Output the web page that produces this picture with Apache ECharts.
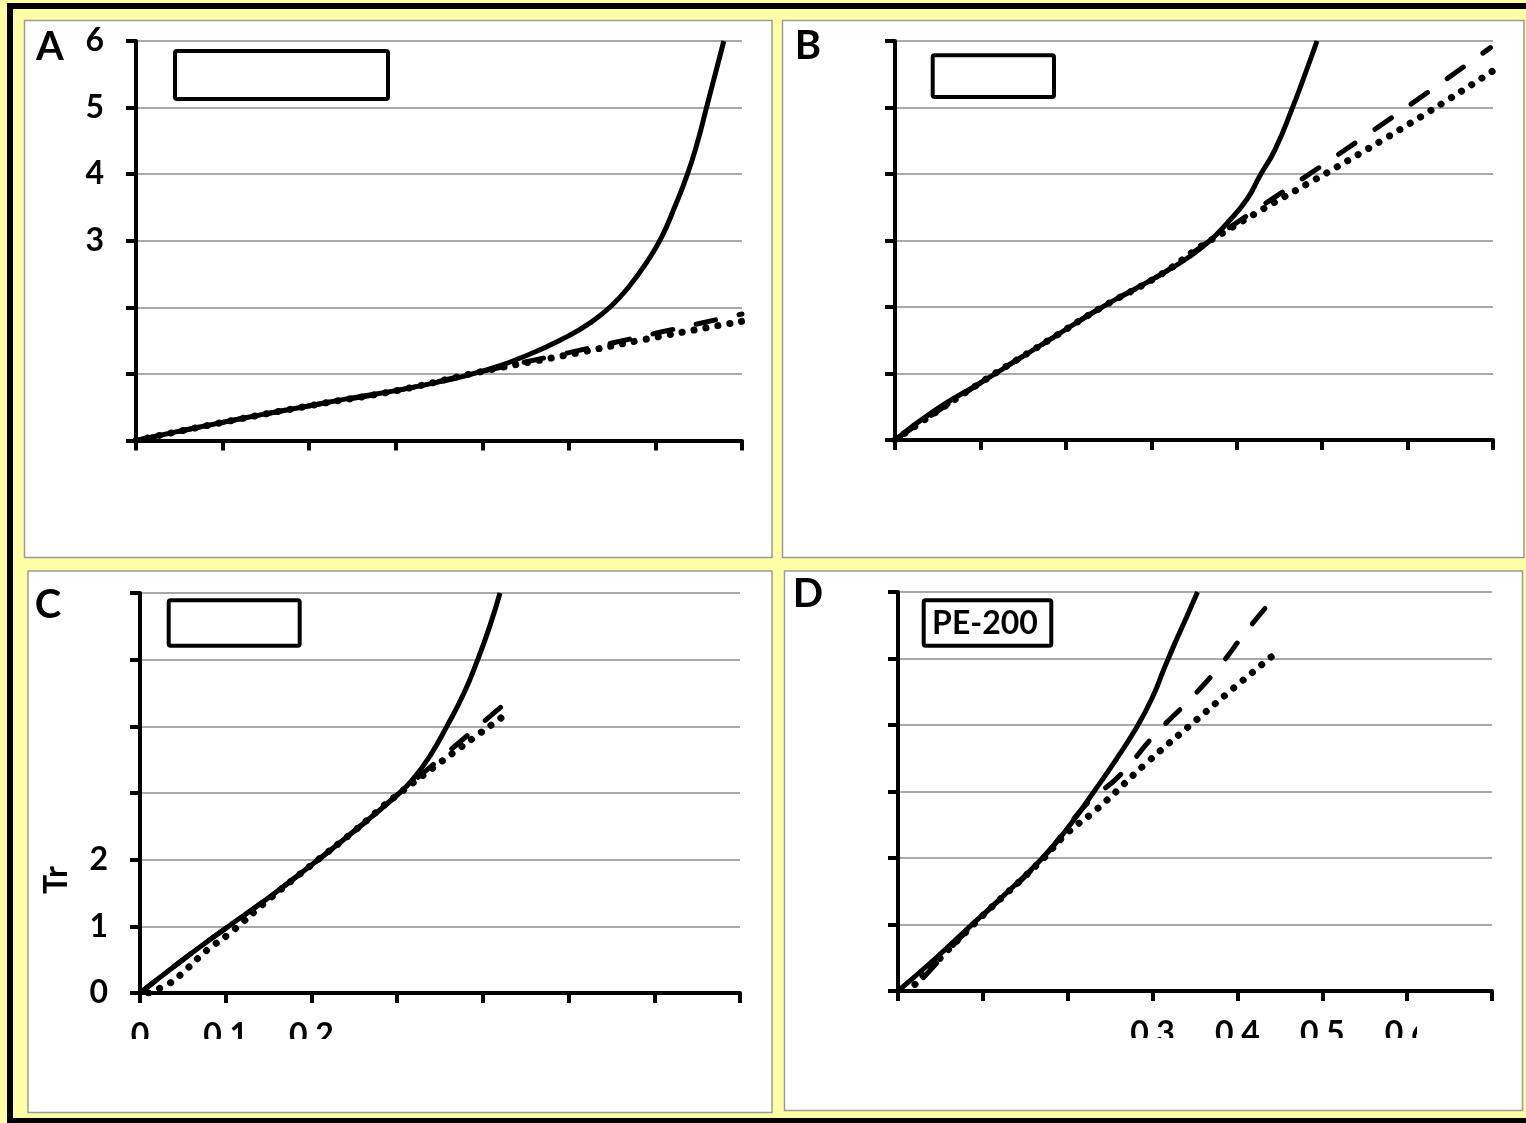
<!DOCTYPE html>
<html>
<head>
<meta charset="utf-8">
<script src="https://cdn.jsdelivr.net/npm/echarts@6/dist/echarts.min.js"></script>
<style>
  html, body { margin: 0; padding: 0; background: #fff; }
  #main { width: 1526px; height: 1123px; }
</style>
</head>
<body>
<div id="main"></div>
<script>
// values, [x, Tr]
// panel A
var aSolid = [[0, 0], [0.05, 0.14], [0.103, 0.28], [0.15, 0.4], [0.204, 0.53], [0.25, 0.64], [0.305, 0.76], [0.35, 0.88], [0.397, 1.03], [0.452, 1.28], [0.498, 1.56], [0.525, 1.77], [0.549, 2.02], [0.57, 2.32], [0.59, 2.68], [0.607, 3.05], [0.622, 3.5], [0.637, 4.0], [0.649, 4.5], [0.659, 5.0], [0.669, 5.5], [0.679, 6.0]];
var aDash = [[0, 0], [0.103, 0.28], [0.204, 0.53], [0.305, 0.76], [0.397, 1.03], [0.5, 1.32], [0.6, 1.61], [0.7, 1.9]];
var aDot = [[0, 0], [0.103, 0.28], [0.204, 0.53], [0.305, 0.76], [0.397, 1.03], [0.5, 1.29], [0.6, 1.55], [0.7, 1.79]];
// panel B
var bSolid = [[0, 0], [0.047, 0.45], [0.1, 0.86], [0.18, 1.5], [0.24, 1.98], [0.31, 2.48], [0.345, 2.76], [0.369, 3.0], [0.388, 3.25], [0.412, 3.62], [0.427, 3.97], [0.445, 4.37], [0.466, 5.02], [0.48, 5.5], [0.494, 6.0]];
var bDash = [[0, 0], [0.1, 0.86], [0.18, 1.5], [0.24, 1.98], [0.31, 2.48], [0.369, 3.0], [0.548, 4.55], [0.697, 5.9]];
var bDot = [[0, 0], [0.1, 0.86], [0.18, 1.5], [0.24, 1.98], [0.31, 2.48], [0.369, 3.0], [0.572, 4.52], [0.7, 5.55]];
// panel C
var cSolid = [[0, 0], [0.05, 0.5], [0.101, 0.98], [0.15, 1.43], [0.2, 1.92], [0.25, 2.43], [0.3, 2.97], [0.318, 3.2], [0.338, 3.55], [0.358, 4.0], [0.378, 4.5], [0.394, 5.0], [0.408, 5.5], [0.42, 6.0]];
var cDash = [[0, 0], [0.05, 0.5], [0.101, 0.98], [0.15, 1.43], [0.2, 1.92], [0.25, 2.43], [0.3, 2.97], [0.434, 4.43]];
var cDot = [[0.01, 0], [0.035, 0.15], [0.047, 0.27], [0.07, 0.55], [0.082, 0.68], [0.105, 0.9], [0.15, 1.4], [0.2, 1.92], [0.25, 2.43], [0.3, 2.97], [0.426, 4.17]];
// panel D
var dSolid = [[0, 0], [0.045, 0.5], [0.089, 1.02], [0.13, 1.5], [0.168, 1.97], [0.2, 2.45], [0.231, 3.0], [0.257, 3.48], [0.282, 3.98], [0.3, 4.42], [0.314, 4.86], [0.327, 5.25], [0.34, 5.62], [0.353, 6.0]];
var dDash = [[0.03, 0.2], [0.089, 1.0], [0.168, 1.96], [0.22, 2.78], [0.262, 3.25], [0.301, 3.83], [0.349, 4.45], [0.38, 4.9], [0.411, 5.42], [0.449, 6.0]];
var dDot = [[0.02, 0.1], [0.089, 1.0], [0.168, 1.95], [0.199, 2.37], [0.234, 2.73], [0.293, 3.43], [0.352, 4.08], [0.396, 4.56], [0.447, 5.1]];

// tick labels that are visible in each panel
var aYLabels = [3, 4, 5, 6];
var cYLabels = [0, 1, 2];
var cXLabels = [0, 0.1, 0.2];
var dXLabels = [0.3, 0.4, 0.5, 0.6];

var font = "Lato";
var chart = echarts.init(document.getElementById("main"));

function pick(list) {
  return function (v) {
    for (var i = 0; i < list.length; i++) {
      if (Math.abs(list[i] - v) < 1e-6) return String(list[i]);
    }
    return "";
  };
}

// tick label text style
var tickFont = {
  color: "#000",
  fontFamily: font,
  fontWeight: "bold",
  fontSize: 32,
};

function makeX(i, labels) {
  return {
    type: "value",
    gridIndex: i,
    min: 0,
    max: 0.7,
    interval: 0.1,
    axisLine: { show: true, onZero: false, lineStyle: { color: "#000", width: 4 } },
    axisTick: { show: true, length: 10, lineStyle: { color: "#000", width: 4 } },
    splitLine: { show: false },
    axisLabel: Object.assign({ show: labels.length > 0, margin: 27, formatter: pick(labels) }, tickFont),
  };
}

function makeY(i, labels) {
  return {
    type: "value",
    gridIndex: i,
    min: 0,
    max: 6,
    interval: 1,
    axisLine: { show: true, onZero: false, lineStyle: { color: "#000", width: 4 } },
    axisTick: { show: true, length: 10, lineStyle: { color: "#000", width: 4 } },
    splitLine: { show: true, lineStyle: { color: "#8c8c8c", width: 1.5 } },
    axisLabel: Object.assign({ show: labels.length > 0, margin: 32, formatter: pick(labels) }, tickFont),
  };
}

function line(i, data, kind) {
  var style = { color: "#000", width: 5 };
  if (kind == "dash") {
    style.type = [20, 24];
    style.cap = "round";
  }
  if (kind == "dot") {
    style.type = [0.1, 12];
    style.cap = "round";
    style.width = 7;
  }
  return {
    type: "line",
    xAxisIndex: i,
    yAxisIndex: i,
    data: data,
    showSymbol: false,
    smooth: 0.5,
    lineStyle: style,
    z: kind == "solid" ? 3 : 2,
  };
}

function box(x, y, w, h, z, fill, stroke, lw) {
  return {
    type: "rect",
    z: z,
    shape: { x: x, y: y, width: w, height: h, r: lw > 2 ? 2 : 0 },
    style: { fill: fill, stroke: stroke, lineWidth: lw },
  };
}

function label(text, x, y, size, rot) {
  return {
    type: "text",
    z: 100,
    x: x,
    y: y,
    rotation: rot || 0,
    style: {
      text: text,
      fill: "#000",
      font: "bold " + size + "px " + font,
      align: "center",
      verticalAlign: "middle",
      textAlign: "center",
      textVerticalAlign: "middle",
    },
  };
}

var option = {
  animation: false,
  grid: [
    { left: 136, top: 41, width: 606, height: 399.5, outerBoundsMode: "none" },
    { left: 895, top: 41, width: 598, height: 399, outerBoundsMode: "none" },
    { left: 140, top: 593, width: 600, height: 400, outerBoundsMode: "none" },
    { left: 898, top: 592, width: 594, height: 399, outerBoundsMode: "none" },
  ],
  xAxis: [makeX(0, []), makeX(1, []), makeX(2, cXLabels), makeX(3, dXLabels)],
  yAxis: [makeY(0, aYLabels), makeY(1, []), makeY(2, cYLabels), makeY(3, [])],
  series: [
    line(0, aSolid, "solid"), line(0, aDash, "dash"), line(0, aDot, "dot"),
    line(1, bSolid, "solid"), line(1, bDash, "dash"), line(1, bDot, "dot"),
    line(2, cSolid, "solid"), line(2, cDash, "dash"), line(2, cDot, "dot"),
    line(3, dSolid, "solid"), line(3, dDash, "dash"), line(3, dDot, "dot"),
  ],
  graphic: {
    elements: [
      // yellow page and black frame
      box(0, 0, 1526, 1123, -30, "#ffffa6", null, 0),
      box(7, 3, 6, 1120, -25, "#000", null, 0),
      box(7, 3, 1519, 6, -25, "#000", null, 0),
      box(7, 1118, 1519, 5, -25, "#000", null, 0),
      // the four white panels
      box(24.5, 20.5, 747.5, 537, -20, "#fff", "#9a9a9a", 1.5),
      box(782.5, 20.5, 741.5, 537, -20, "#fff", "#9a9a9a", 1.5),
      box(28, 571, 744, 541.5, -20, "#fff", "#9a9a9a", 1.5),
      box(784.5, 571, 738, 539.5, -20, "#fff", "#9a9a9a", 1.5),
      // legend boxes (empty except D)
      box(175, 51, 213, 48, 100, "#fff", "#000", 4),
      box(932.7, 55.3, 121.3, 41.7, 100, "#fff", "#000", 4),
      box(168.7, 600.3, 131, 45.4, 100, "#fff", "#000", 4),
      box(923.7, 600.3, 127.6, 45.4, 100, "#fff", "#000", 4),
      label("PE-200", 985, 624, 32),
      // panel letters
      label("A", 50, 47, 40),
      label("B", 808, 46, 40),
      label("C", 48, 605, 40),
      label("D", 808, 594, 40),
      // y axis name
      label("Tr", 57, 880, 32, Math.PI / 2),
      // tick labels are cut in half in the original
      box(100, 1039, 660, 22, 100, "#fff", null, 0),
      box(860, 1038, 640, 22, 100, "#fff", null, 0),
      box(1417, 1015, 40, 30, 100, "#fff", null, 0),
    ],
  },
};
chart.setOption(option);
</script>
</body>
</html>
